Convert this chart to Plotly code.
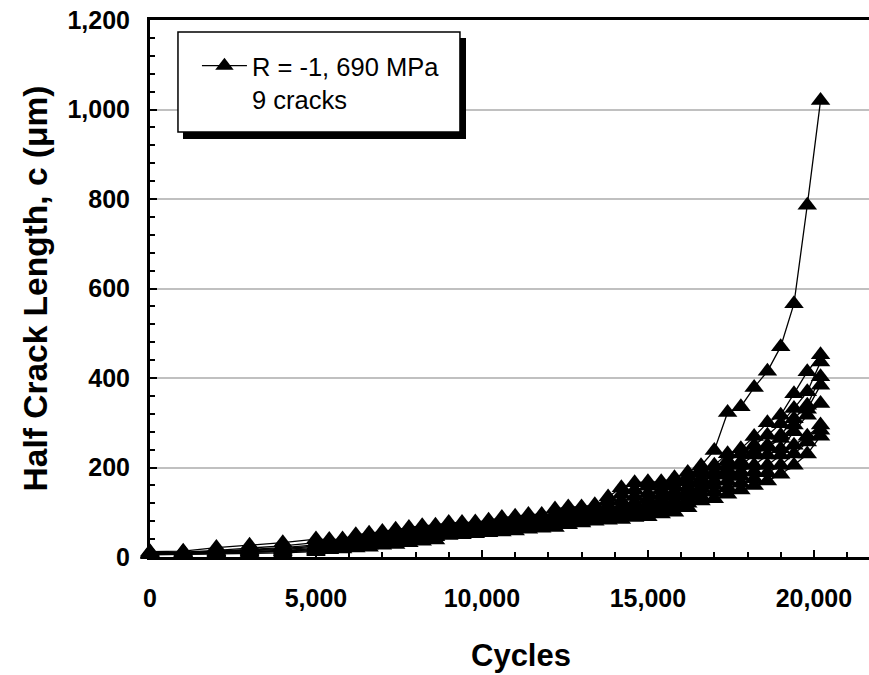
import plotly.graph_objects as go

cycles = [0, 1000, 2000, 3000, 4000, 5000, 5400, 5800, 6200, 6600, 7000, 7400, 7800,
          8200, 8600, 9000, 9400, 9800, 10200, 10600, 11000, 11400, 11800, 12200,
          12600, 13000, 13400, 13800, 14200, 14600, 15000, 15400, 15800, 16200,
          16600, 17000, 17400, 17800, 18200, 18600, 19000, 19400, 19800, 20200]

crack_a = [12, 13, 21, 26, 32, 40, 39, 40, 50, 53, 57, 62, 66, 70, 71, 77, 77, 78, 82, 88, 91, 95,
           95, 107, 112, 112, 117, 125, 140, 150, 158, 163, 170, 180,
           204, 238, 323, 336, 379, 415, 470, 566, 786, 1020]
crack_b = [10, 11, 15, 20, 25, 32, 35, 38, 42, 46, 50, 55, 60, 63, 66, 70, 72, 75, 78, 82, 86, 90,
           93, 98, 103, 108, 113, 134, 155, 166, 168, 168, 177, 189,
           195, 205, 231, 242, 269, 300, 317, 365, 414, 452]
crack_c = [9, 10, 13, 17, 21, 27, 30, 33, 37, 41, 45, 49, 53, 57, 61, 66, 68, 71, 74, 78, 82, 85,
           89, 93, 98, 103, 108, 115, 125, 135, 142, 150, 158, 168,
           187, 202, 215, 230, 250, 272, 298, 332, 369, 436]
crack_d = [8, 9, 12, 15, 19, 24, 27, 30, 33, 37, 41, 45, 49, 53, 57, 62, 64, 67, 70, 74, 78, 81,
           84, 88, 92, 96, 101, 107, 114, 122, 130, 138, 146, 156,
           175, 190, 205, 213, 235, 250, 272, 309, 339, 403]
crack_e = [8, 9, 11, 14, 17, 21, 24, 27, 30, 34, 38, 42, 46, 50, 54, 59, 61, 64, 67, 71, 74, 77,
           80, 84, 88, 92, 96, 101, 107, 114, 120, 128, 137, 148,
           165, 183, 195, 205, 228, 245, 265, 295, 330, 384]
crack_f = [7, 8, 10, 12, 15, 18, 21, 24, 27, 31, 35, 39, 43, 47, 51, 56, 58, 61, 64, 67, 70, 73,
           76, 80, 84, 88, 92, 96, 101, 106, 112, 119, 127, 138,
           155, 170, 183, 190, 205, 228, 242, 280, 317, 343]
crack_g = [6, 7, 9, 11, 13, 16, 19, 22, 25, 28, 32, 36, 40, 44, 48, 53, 55, 58, 61, 64, 67, 70,
           73, 76, 80, 84, 88, 92, 96, 100, 105, 111, 118, 128,
           145, 160, 170, 180, 190, 205, 228, 250, 270, 295]
crack_h = [6, 6, 8, 10, 12, 14, 17, 20, 23, 26, 29, 33, 37, 41, 45, 51, 53, 56, 58, 61, 64, 67,
           70, 72, 76, 80, 84, 88, 91, 95, 99, 104, 110, 120,
           135, 145, 155, 165, 175, 188, 205, 230, 257, 283]
crack_i = [5, 6, 7, 8, 9, 12, 16, 18, 20, 22, 26, 28, 32, 35, 38, 48, 50, 52, 54, 56, 58, 62,
           64, 66, 72, 76, 80, 82, 84, 88, 90, 96, 100, 110,
           125, 130, 140, 150, 160, 170, 185, 205, 230, 270]

cracks = [crack_a, crack_b, crack_c, crack_d, crack_e, crack_f, crack_g, crack_h, crack_i]
legend_name = "R = -1, 690 MPa<br>9 cracks"

FONT = "Liberation Sans, Arial, Helvetica, sans-serif"

fig = go.Figure()
for k, ys in enumerate(cracks):
    fig.add_trace(go.Scatter(
        x=cycles, y=ys, mode="lines+markers",
        name=legend_name, legendgroup="all", showlegend=(k == 0),
        line=dict(color="black", width=1.3),
        marker=dict(symbol="triangle-up", size=17, color="black"),
        cliponaxis=False,
    ))

# legend frame with shadow (paper coordinates)
fig.add_shape(type="rect", xref="paper", yref="paper", x0=0.0459, x1=0.4395, y0=0.7784, y1=0.9665,
              fillcolor="black", line=dict(width=0), layer="above")
fig.add_shape(type="rect", xref="paper", yref="paper", x0=0.0389, x1=0.4311, y0=0.7914, y1=0.9777,
              fillcolor="white", line=dict(color="black", width=1.5), layer="above")

# x-axis title
fig.add_annotation(text="Cycles", xref="paper", yref="paper", x=0.516, y=0,
                   xanchor="center", yanchor="middle", yshift=-98, showarrow=False,
                   font=dict(family=FONT, size=31, color="black", weight="bold"))

fig.update_layout(
    width=869, height=675,
    margin=dict(l=150, r=0, t=20, b=118),
    paper_bgcolor="white", plot_bgcolor="white",
    font=dict(family=FONT, color="black"),
    showlegend=True,
    legend=dict(x=0.0653, y=0.958, xanchor="left", yanchor="top",
                bgcolor="rgba(0,0,0,0)", borderwidth=0,
                font=dict(family=FONT, size=25.5, color="black"),
                valign="top", tracegroupgap=0, itemwidth=45),
    xaxis=dict(
        range=[0, 21660], dtick=5000, tick0=0, tickformat=",d",
        showgrid=False, zeroline=False,
        showline=True, linecolor="black", linewidth=3, mirror=True,
        ticks="inside", ticklen=7, tickwidth=1.5, tickcolor="black",
        minor=dict(dtick=1000, ticks="inside", ticklen=5, tickwidth=1.5, tickcolor="black", showgrid=False),
        tickfont=dict(family=FONT, size=25, color="black", weight="bold"),
        ticklabelstandoff=17, ticklabeloverflow="allow",
    ),
    yaxis=dict(
        range=[0, 1200], dtick=200, tick0=0, tickformat=",d",
        showgrid=True, gridcolor="#c0c0c0", gridwidth=1.5, zeroline=False,
        showline=True, linecolor="black", linewidth=3, mirror=False,
        ticks="inside", ticklen=7, tickwidth=1.5, tickcolor="black",
        minor=dict(dtick=40, ticks="inside", ticklen=5, tickwidth=1.5, tickcolor="black", showgrid=False),
        tickfont=dict(family=FONT, size=25, color="black", weight="bold"),
        ticklabelstandoff=12, ticklabeloverflow="allow",
        title=dict(text="Half Crack Length, c (μm)", font=dict(family=FONT, size=33.5, color="black", weight="bold"), standoff=10),
    ),
)

fig.write_html("out.html", config={"displayModeBar": False},
               post_script="document.body.style.margin='0';document.body.style.overflow='hidden';")
